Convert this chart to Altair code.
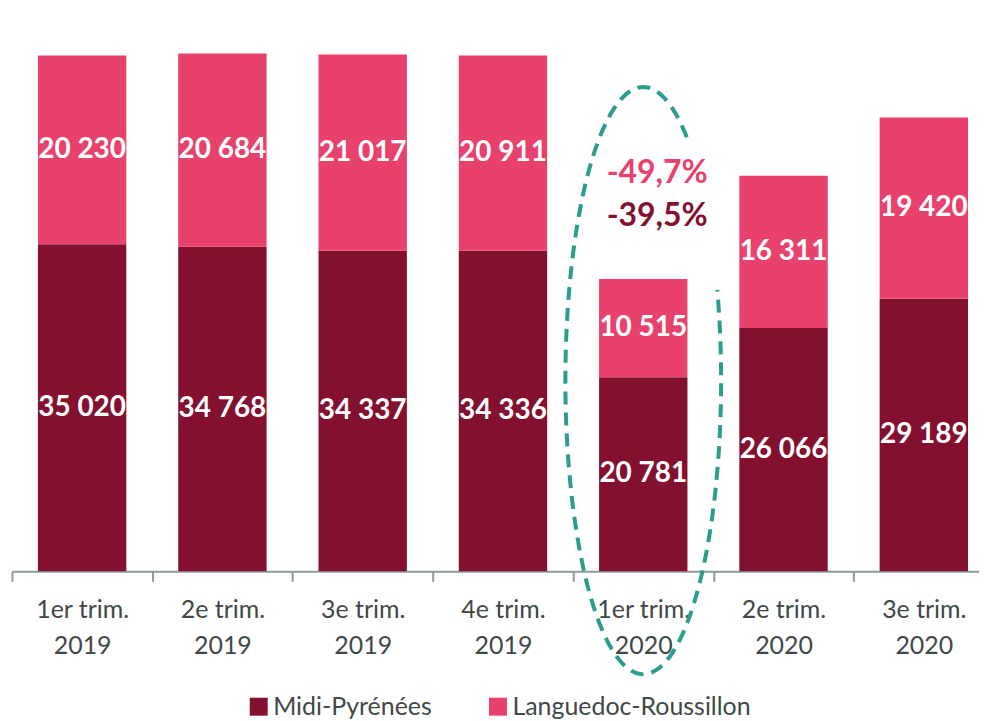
import altair as alt
import pandas as pd
import numpy as np

categories = ["1er trim.|2019", "2e trim.|2019", "3e trim.|2019", "4e trim.|2019",
              "1er trim.|2020", "2e trim.|2020", "3e trim.|2020"]
midi = [35020, 34768, 34337, 34336, 20781, 26066, 29189]
langue = [20230, 20684, 21017, 20911, 10515, 16311, 19420]
series = ["Midi-Pyrénées", "Languedoc-Roussillon"]
colors = ["#841030", "#E8416C"]

annot_cat = "1er trim.|2020"
annot_text = ["-49,7%", "-39,5%"]
annot_y = [42700, 38100]
annot_colors = ["#E8416C", "#841030"]

FONT = "Lato"
TXT = "#3F4848"
AXC = "#8E9B9B"

rows = []
for i, c in enumerate(categories):
    base = 0
    for s, vals, o in ((series[0], midi, 0), (series[1], langue, 1)):
        v = vals[i]
        rows.append({"cat": c, "series": s, "value": v, "ord": o,
                     "y0": base, "y1": base + v, "mid": base + v / 2,
                     "label": f"{v:,}".replace(",", " ")})
        base += v
df = pd.DataFrame(rows)

RANGE = [0, 985]
def xscale():
    return alt.Scale(domain=categories, range=RANGE, paddingInner=0, paddingOuter=0)
yscale = alt.Scale(domain=[0, 60000], nice=False, zero=True)

bars = alt.Chart(df).mark_bar(width=alt.RelativeBandSize(0.63)).encode(
    x=alt.X("cat:N", sort=categories, scale=xscale(), title=None,
            axis=alt.Axis(labelExpr="datum.value ? split(datum.value, '|') : ''", labelAngle=0,
                          tickBand="extent", tickSize=10, labelPadding=16,
                          labelFont=FONT, labelFontSize=25, labelColor=TXT,
                          labelLineHeight=36, domainColor=AXC, tickColor=AXC,
                          domainWidth=2, tickWidth=2, grid=False)),
    y=alt.Y("y0:Q", scale=yscale, axis=None),
    y2="y1:Q",
    color=alt.Color("series:N", scale=alt.Scale(domain=series, range=colors),
                    legend=alt.Legend(orient="none", legendX=235, legendY=685,
                                      direction="horizontal", title=None,
                                      symbolType="square", symbolSize=324,
                                      symbolStrokeWidth=0, labelFontSize=25,
                                      labelFont=FONT, labelColor=TXT, labelLimit=400,
                                      columnPadding=53, labelOffset=2)),
)

labels = alt.Chart(df).mark_text(font=FONT, fontSize=28, fontWeight="bold",
                                 color="white", baseline="middle").encode(
    x=alt.X("cat:N", sort=categories, scale=xscale(), axis=None),
    y=alt.Y("mid:Q", scale=yscale, axis=None),
    text="label:N",
)

layers = [bars, labels]
for t, yv, col in zip(annot_text, annot_y, annot_colors):
    adf = pd.DataFrame({"cat": [annot_cat], "y": [yv], "t": [t]})
    layers.append(alt.Chart(adf).mark_text(font=FONT, fontSize=32, fontWeight="bold",
                                            color=col, baseline="middle", dx=14).encode(
        x=alt.X("cat:N", scale=xscale(), axis=None),
        y=alt.Y("y:Q", scale=yscale, axis=None),
        text="t:N",
    ))

# dashed ellipse around the 1er trim. 2020 bar (band units on x, data units on y)
ang = np.radians(np.arange(56, 379, 2))
edf = pd.DataFrame({"k": np.arange(len(ang)),
                    "ex": 4.5 + 0.555 * np.cos(ang),
                    "ey": 20430 + 31440 * np.sin(ang)})
ell = alt.Chart(edf).mark_line(color="#2A9D8E", strokeWidth=4, strokeDash=[13, 8],
                               clip=False).encode(
    x=alt.X("ex:Q", scale=alt.Scale(domain=[0, 7], range=RANGE, nice=False, zero=False), axis=None),
    y=alt.Y("ey:Q", scale=yscale, axis=None),
    order="k:Q",
)
layers.append(ell)

chart = alt.layer(*layers).resolve_scale(x="independent").properties(
    width=970, height=562,
    padding={"left": 4, "top": 2, "right": 0, "bottom": 148},
    autosize=alt.AutoSizeParams(type="none"),
).configure_view(stroke=None)

chart.save("out.html", embed_options={"renderer": "svg", "actions": False})
